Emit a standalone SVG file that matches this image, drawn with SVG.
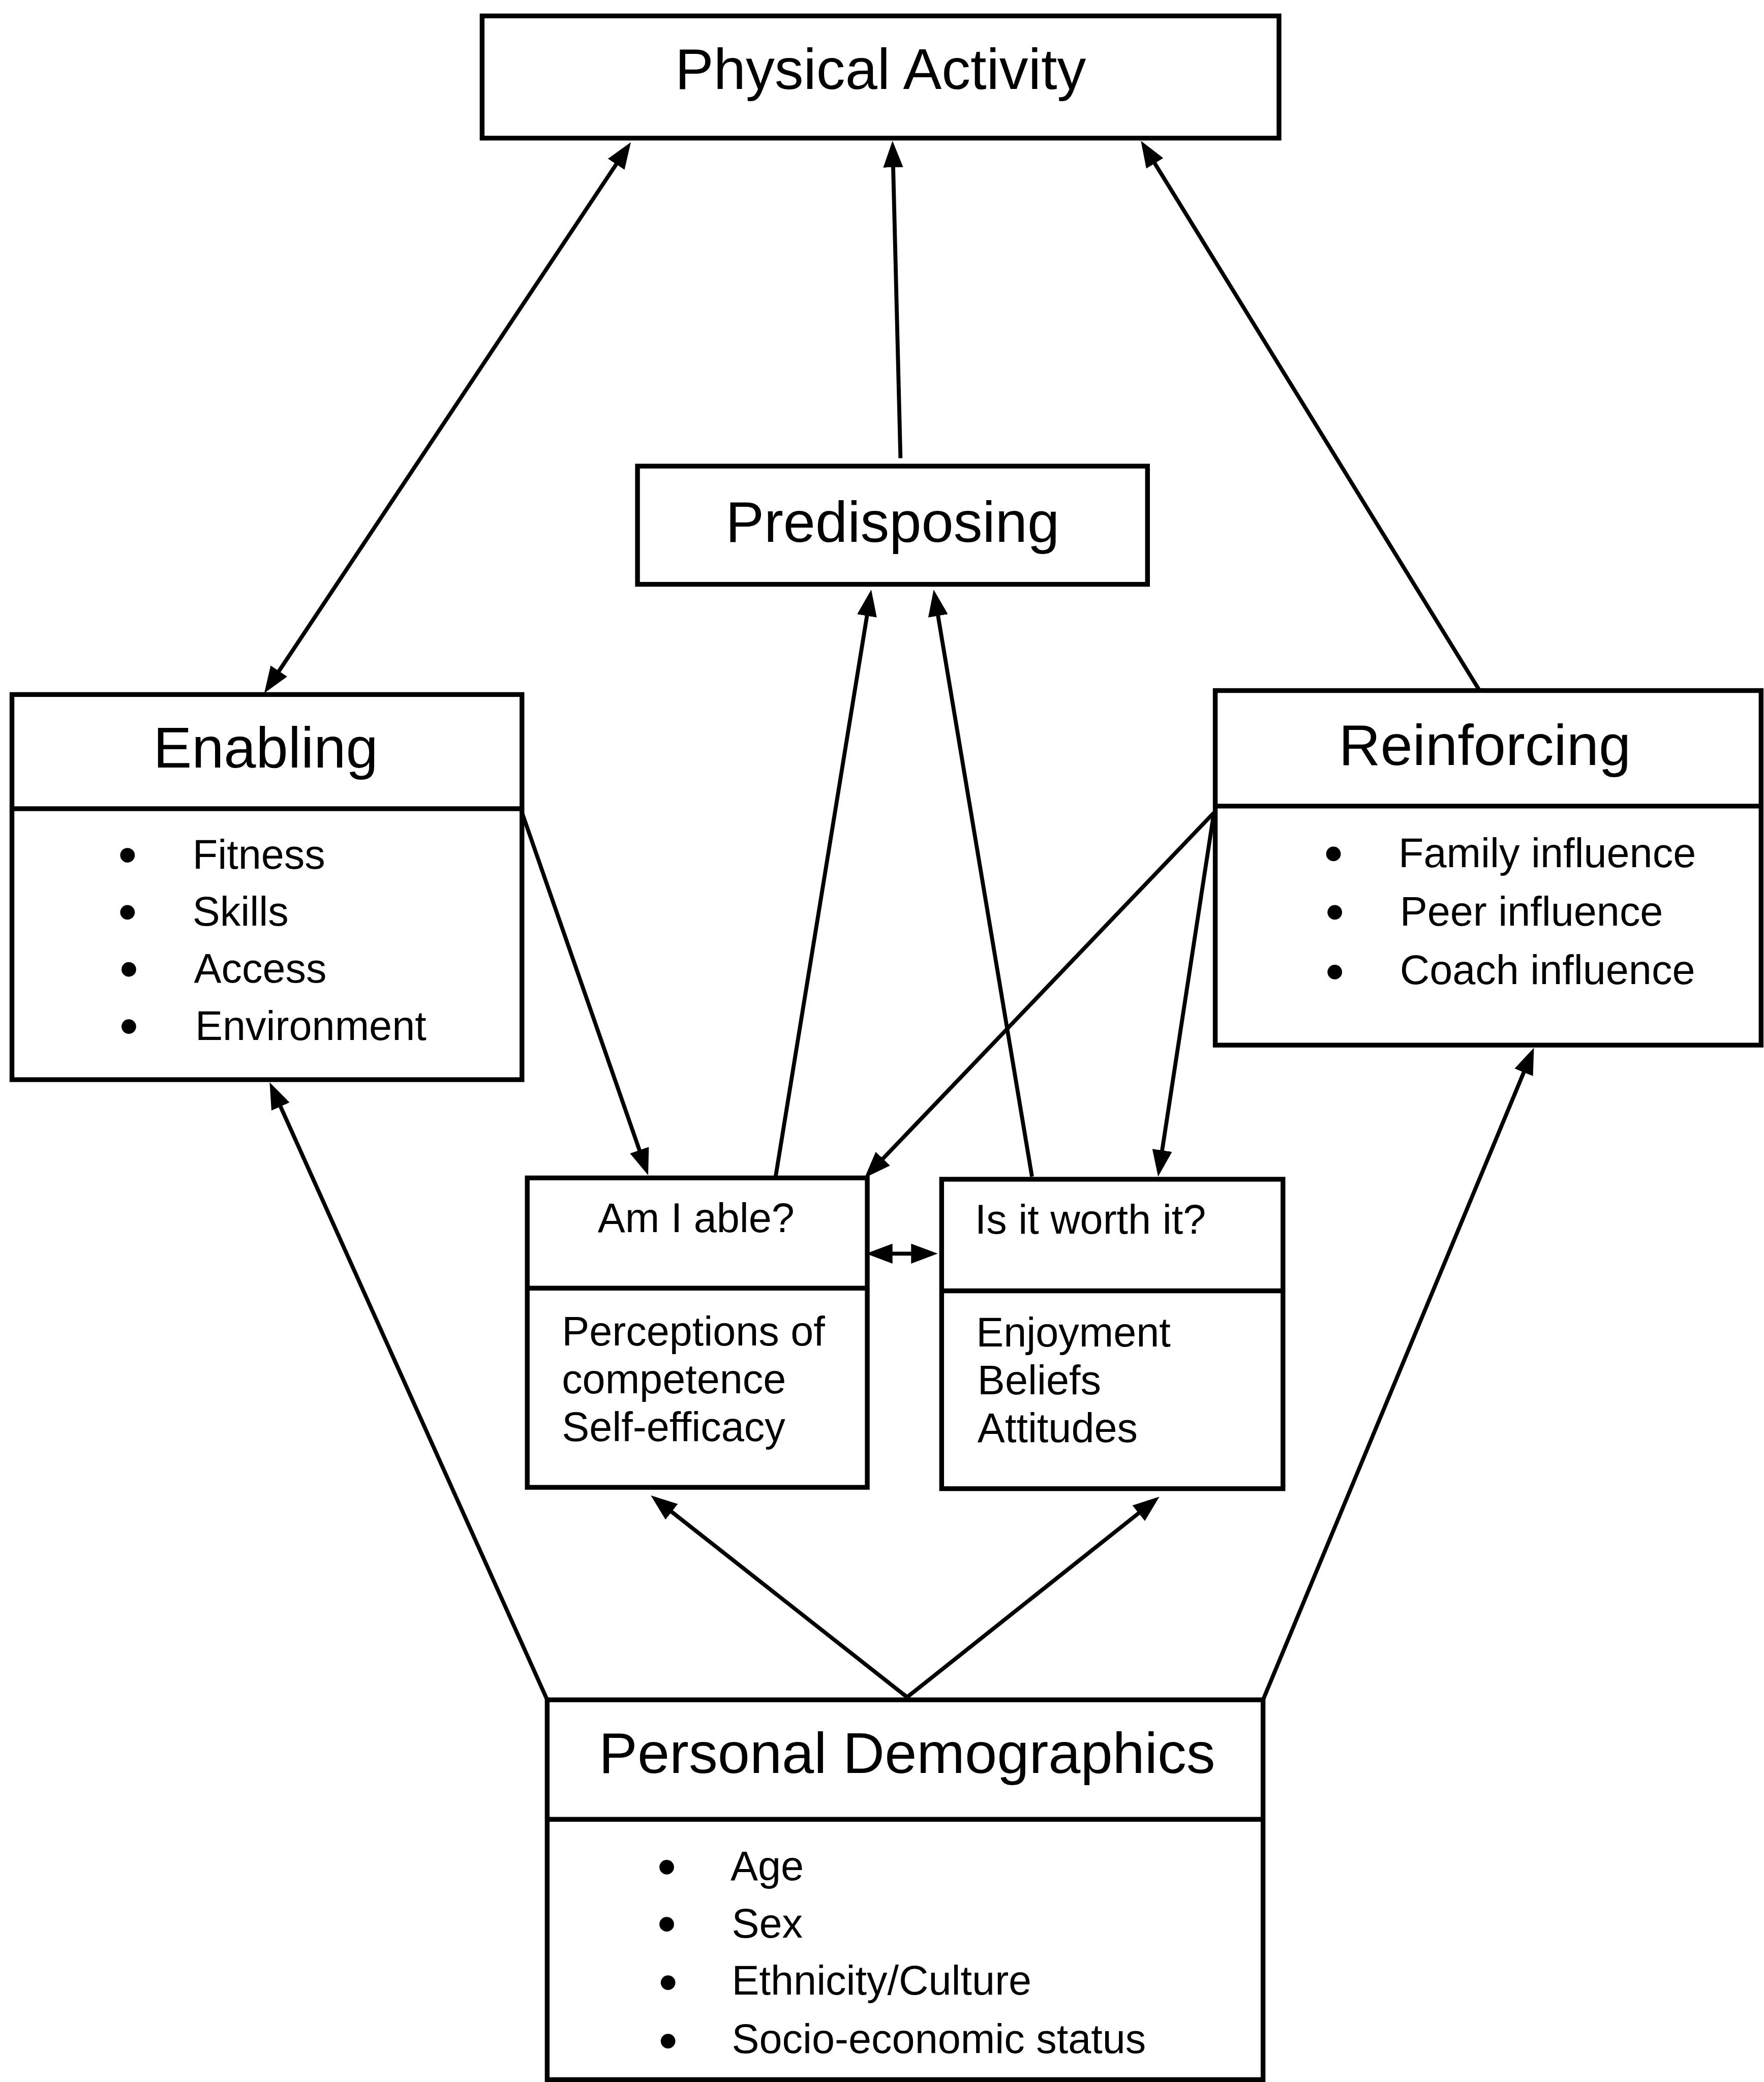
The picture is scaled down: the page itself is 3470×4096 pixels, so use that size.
<svg xmlns="http://www.w3.org/2000/svg" width="3470" height="4096" viewBox="0 0 3470 4096">
<defs>
<style>
.box{fill:#fff;stroke:#000;stroke-width:3.6}
.div{stroke:#000;stroke-width:3.6}
.t{font-family:"Liberation Sans",Arial,sans-serif;fill:#000}
.title{font-size:43.5px;text-anchor:middle}
.item{font-size:31px}
.conn line{stroke:#000;stroke-width:3;fill:none}
.dot{fill:#000}
</style>
<marker id="ah" markerUnits="userSpaceOnUse" viewBox="0 0 20 15" markerWidth="20" markerHeight="15" refX="12" refY="7.5" orient="auto-start-reverse">
<path d="M0,0 L20,7.5 L0,15 z" fill="#000"/>
</marker>
</defs>
<rect width="3470" height="4096" fill="#fff"/>
<g transform="scale(2.6126)">
<g id="physical-activity">
<rect class="box" x="363" y="12" width="600" height="92"/>
<text class="t title" x="663" y="67">Physical Activity</text>
</g>
<g id="predisposing">
<rect class="box" x="480" y="351" width="384" height="89"/>
<text class="t title" x="672" y="408">Predisposing</text>
</g>
<g id="enabling">
<rect class="box" x="9" y="523" width="384" height="290"/>
<line class="div" x1="9" y1="609" x2="393" y2="609"/>
<text class="t title" x="200" y="578">Enabling</text>
<circle class="dot" cx="96" cy="644" r="5.5"/>
<circle class="dot" cx="96" cy="687" r="5.5"/>
<circle class="dot" cx="97" cy="730" r="5.5"/>
<circle class="dot" cx="97" cy="773" r="5.5"/>
<text class="t item" x="145" y="654">Fitness</text>
<text class="t item" x="145" y="697">Skills</text>
<text class="t item" x="146" y="740">Access</text>
<text class="t item" x="147" y="783">Environment</text>
</g>
<g id="reinforcing">
<rect class="box" x="915" y="520" width="411" height="267"/>
<line class="div" x1="915" y1="607" x2="1326" y2="607"/>
<text class="t title" x="1118" y="576">Reinforcing</text>
<circle class="dot" cx="1004" cy="643" r="5.5"/>
<circle class="dot" cx="1005" cy="687" r="5.5"/>
<circle class="dot" cx="1005" cy="732" r="5.5"/>
<text class="t item" x="1053" y="653">Family influence</text>
<text class="t item" x="1054" y="697">Peer influence</text>
<text class="t item" x="1054" y="741">Coach influence</text>
</g>
<g id="am-i-able">
<rect class="box" x="397" y="887" width="256" height="233"/>
<line class="div" x1="397" y1="970" x2="653" y2="970"/>
<text class="t item" x="450" y="928">Am I able?</text>
<text class="t item" x="423" y="1013">Perceptions of</text>
<text class="t item" x="423" y="1049">competence</text>
<text class="t item" x="423" y="1085">Self-efficacy</text>
</g>
<g id="is-it-worth-it">
<rect class="box" x="709" y="888" width="257" height="233"/>
<line class="div" x1="709" y1="972" x2="966" y2="972"/>
<text class="t item" x="734" y="929">Is it worth it?</text>
<text class="t item" x="735" y="1014">Enjoyment</text>
<text class="t item" x="736" y="1050">Beliefs</text>
<text class="t item" x="736" y="1086">Attitudes</text>
</g>
<g id="personal-demographics">
<rect class="box" x="412" y="1280" width="539" height="286"/>
<line class="div" x1="412" y1="1370" x2="951" y2="1370"/>
<text class="t title" x="683" y="1335">Personal Demographics</text>
<circle class="dot" cx="502" cy="1406" r="5.5"/>
<circle class="dot" cx="502" cy="1449" r="5.5"/>
<circle class="dot" cx="503" cy="1493" r="5.5"/>
<circle class="dot" cx="503" cy="1537" r="5.5"/>
<text class="t item" x="550" y="1416">Age</text>
<text class="t item" x="551" y="1459">Sex</text>
<text class="t item" x="551" y="1502">Ethnicity/Culture</text>
<text class="t item" x="551" y="1546">Socio-economic status</text>
</g>
<g id="connectors" class="conn">
<line x1="203.4" y1="515.3" x2="470.6" y2="113.7" marker-start="url(#ah)" marker-end="url(#ah)"/>
<line x1="678" y1="345" x2="672.2" y2="114" marker-end="url(#ah)"/>
<line x1="1114" y1="520" x2="863.2" y2="112.8" marker-end="url(#ah)"/>
<line x1="392" y1="609" x2="485.4" y2="877.4" marker-end="url(#ah)"/>
<line x1="584" y1="886" x2="654.7" y2="451.9" marker-end="url(#ah)"/>
<line x1="777" y1="886" x2="704.3" y2="451.9" marker-end="url(#ah)"/>
<line x1="914" y1="612" x2="656.5" y2="881.2" marker-end="url(#ah)"/>
<line x1="914" y1="612" x2="873.2" y2="878.1" marker-end="url(#ah)"/>
<line x1="660" y1="944" x2="698" y2="944" marker-start="url(#ah)" marker-end="url(#ah)"/>
<line x1="683" y1="1278" x2="496.3" y2="1131" marker-end="url(#ah)"/>
<line x1="683" y1="1278" x2="866.7" y2="1132" marker-end="url(#ah)"/>
<line x1="412" y1="1280" x2="206.3" y2="822.3" marker-end="url(#ah)"/>
<line x1="951" y1="1280" x2="1151.9" y2="796.4" marker-end="url(#ah)"/>
</g>
</g>
</svg>
